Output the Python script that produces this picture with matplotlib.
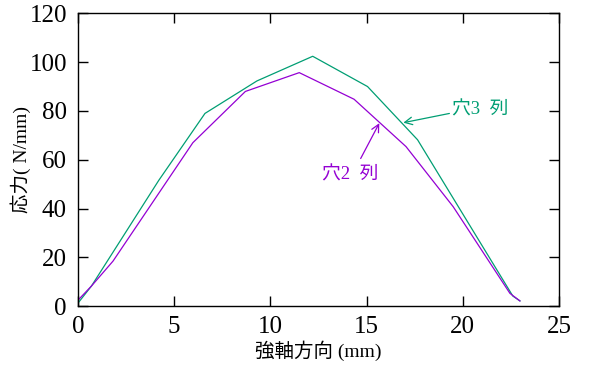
import matplotlib
matplotlib.use("Agg")
import matplotlib.pyplot as plt

# Data
x_col3 = [0.05, 0.7, 4.2, 6.6, 9.3, 12.2, 15.05, 17.65, 22.6, 22.97]
y_col3 = [1.8, 8.3, 51.6, 79.0, 92.3, 102.4, 90.0, 68.2, 4.2, 2.2]
x_col2 = [0.0, 0.7, 1.82, 5.97, 8.7, 11.5, 14.35, 17.05, 19.5, 22.45, 22.97]
y_col2 = [2.5, 8.3, 18.5, 67.0, 88.0, 95.7, 84.8, 65.4, 40.8, 5.3, 2.2]

x_ticks = [0, 5, 10, 15, 20, 25]
y_ticks = [0, 20, 40, 60, 80, 100, 120]
label_col3 = "穴3  列"
label_col2 = "穴2  列"
x_label = "強軸方向 (mm)"
y_label = "応力( N/mm)"

purple = "#9400d3"
green = "#009e73"
fam = ["Liberation Serif", "Noto Sans CJK JP"]

fig = plt.figure(figsize=(5.99, 3.76), dpi=100)
ax = fig.add_axes([0.1302, 0.1854, 0.8030, 0.7792])

ax.plot(x_col3, y_col3, color=green, lw=0.9)
ax.plot(x_col2, y_col2, color=purple, lw=0.9)

ax.set_xlim(0, 25)
ax.set_ylim(0, 120)
ax.set_xticks(x_ticks)
ax.set_yticks(y_ticks)
ax.tick_params(direction="in", length=7, width=1, top=True, right=True,
               labelsize=18)
ax.tick_params(axis="x", pad=7)
ax.tick_params(axis="y", pad=8)
for lab in ax.get_xticklabels() + ax.get_yticklabels():
    lab.set_family(fam)
for s in ax.spines.values():
    s.set_linewidth(1)

ax.set_xlabel(x_label, family=fam, fontsize=14, labelpad=2)
ax.set_ylabel(y_label, family=fam, fontsize=14)
ax.yaxis.set_label_coords(-0.097, 0.5)

ax.annotate(label_col3, xy=(16.91, 75.2), xytext=(19.45, 80.4),
            color=green, family=fam, fontsize=13.5, va="center", ha="left",
            arrowprops=dict(arrowstyle="->", color=green, lw=0.9,
                            shrinkA=0, shrinkB=0, relpos=(-0.05, 0.3)))
ax.annotate(label_col2, xy=(15.66, 75.0), xytext=(12.7, 53.8),
            color=purple, family=fam, fontsize=13.5, va="center", ha="left",
            arrowprops=dict(arrowstyle="->", color=purple, lw=0.9,
                            shrinkA=0, shrinkB=0, relpos=(0.68, 1.45)))

fig.savefig("out.png", dpi=100)
